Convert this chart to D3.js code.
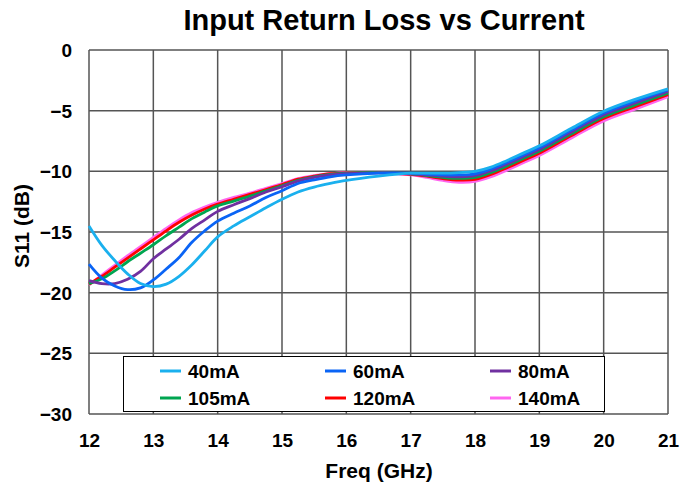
<!DOCTYPE html>
<html><head><meta charset="utf-8">
<script src="https://cdn.jsdelivr.net/npm/d3@7"></script>
<style>
body{margin:0;background:#fff;}
svg text{font-family:Arial,"Liberation Sans",sans-serif;font-weight:bold;fill:#000;}
</style></head>
<body><svg id="chart" width="696" height="488"></svg>
<script>
const freq = [12,12.2,12.4,12.6,12.8,13,13.2,13.4,13.6,13.8,14,14.25,14.5,14.75,15,15.25,15.5,15.75,16,16.5,17,17.25,17.5,17.75,18,18.25,18.5,18.75,19,19.5,20,20.5,21];
const s40  = [-14.5,-16.1,-17.35,-18.45,-19.25,-19.5,-19.3,-18.65,-17.7,-16.55,-15.4,-14.5,-13.75,-13.0,-12.3,-11.7,-11.3,-11.0,-10.75,-10.4,-10.15,-10.15,-10.15,-10.1,-10.0,-9.65,-9.1,-8.5,-7.9,-6.45,-5.05,-4.05,-3.2];
const s60  = [-17.65,-18.8,-19.45,-19.75,-19.6,-18.95,-18.05,-17.1,-15.85,-14.9,-14.1,-13.45,-12.85,-12.15,-11.6,-11.0,-10.7,-10.45,-10.3,-10.15,-10.15,-10.22,-10.3,-10.3,-10.2,-9.8,-9.25,-8.65,-8.05,-6.6,-5.2,-4.2,-3.3];
const s80  = [-19.0,-19.25,-19.25,-18.9,-18.25,-17.2,-16.4,-15.6,-14.7,-14.0,-13.3,-12.75,-12.25,-11.7,-11.27,-10.8,-10.5,-10.3,-10.2,-10.12,-10.2,-10.3,-10.4,-10.45,-10.36,-9.95,-9.4,-8.8,-8.2,-6.75,-5.35,-4.35,-3.42];
const s105 = [-19.25,-18.85,-18.2,-17.45,-16.75,-16.05,-15.3,-14.6,-13.9,-13.35,-12.85,-12.45,-12.05,-11.6,-11.2,-10.75,-10.45,-10.25,-10.15,-10.1,-10.2,-10.35,-10.5,-10.58,-10.5,-10.1,-9.55,-8.95,-8.35,-6.9,-5.5,-4.5,-3.55];
const s120 = [-19.3,-18.65,-17.9,-17.15,-16.4,-15.65,-14.9,-14.2,-13.6,-13.1,-12.7,-12.3,-11.9,-11.5,-11.1,-10.65,-10.4,-10.2,-10.12,-10.1,-10.25,-10.4,-10.6,-10.72,-10.66,-10.25,-9.7,-9.1,-8.5,-7.05,-5.65,-4.65,-3.68];
const s140 = [-19.35,-18.55,-17.75,-16.95,-16.2,-15.45,-14.7,-14.0,-13.4,-12.95,-12.55,-12.15,-11.8,-11.4,-11.0,-10.6,-10.35,-10.2,-10.1,-10.1,-10.3,-10.5,-10.75,-10.9,-10.83,-10.45,-9.9,-9.3,-8.7,-7.25,-5.85,-4.85,-3.85];
const seriesNames = ["40mA","60mA","80mA","105mA","120mA","140mA"];
const seriesColors = ["#1AB0EE","#0A64F5","#7030A0","#00A550","#FF0000","#FF66F0"];
const xTicks = [12,13,14,15,16,17,18,19,20,21];
const yTicks = [0,-5,-10,-15,-20,-25,-30];
const allSeries = [s40,s60,s80,s105,s120,s140];

const svg = d3.select("#chart");
const L=89,R=668,T=50,B=414;
const x = d3.scaleLinear().domain([12,21]).range([L,R]);
const y = d3.scaleLinear().domain([-30,0]).range([B,T]);

// grid
const g = svg.append("g");
g.selectAll(".vg").data(xTicks).join("line")
 .attr("x1",d=>x(d)).attr("x2",d=>x(d)).attr("y1",T).attr("y2",B)
 .attr("stroke","#555").attr("stroke-width",1.5);
g.selectAll(".hg").data(yTicks).join("line")
 .attr("x1",L).attr("x2",R).attr("y1",d=>y(d)).attr("y2",d=>y(d))
 .attr("stroke","#555").attr("stroke-width",1.5);

// axes labels
const xAxis = d3.axisBottom(x).tickValues(xTicks).tickSize(0).tickPadding(0).tickFormat(d3.format("d"));
const xg = svg.append("g").attr("transform",`translate(0,${B})`).call(xAxis);
xg.select(".domain").remove();
xg.selectAll("text").attr("dy",null).attr("y",33).style("font-size","19px").style("font-family","Arial, 'Liberation Sans', sans-serif").style("font-weight","bold");

const yAxis = d3.axisLeft(y).tickValues(yTicks).tickSize(0).tickPadding(0).tickFormat(d3.format("d"));
const yg = svg.append("g").attr("transform",`translate(${L-17},0)`).call(yAxis);
yg.select(".domain").remove();
yg.selectAll("text").attr("dy","0.35em").style("font-size","19px").style("font-family","Arial, 'Liberation Sans', sans-serif").style("font-weight","bold");

// lines
const line = d3.line().x((d,i)=>x(freq[i])).y(d=>y(d)).curve(d3.curveCatmullRom.alpha(0.5));
for(let k=allSeries.length-1;k>=0;k--){
  svg.append("path").datum(allSeries[k]).attr("d",line)
   .attr("fill","none").attr("stroke",seriesColors[k]).attr("stroke-width",2.8)
   .attr("stroke-linejoin","round");
}

// legend
const lg = svg.append("g");
lg.append("rect").attr("x",123.5).attr("y",356.5).attr("width",481).attr("height",55)
  .attr("fill","#fff").attr("stroke","#000").attr("stroke-width",1);
const colX=[160,325,490], rowY=[371,398];
seriesNames.forEach((n,i)=>{
  const cx=colX[i%3], cy=rowY[Math.floor(i/3)];
  lg.append("line").attr("x1",cx).attr("x2",cx+21).attr("y1",cy).attr("y2",cy)
    .attr("stroke",seriesColors[i]).attr("stroke-width",3);
  lg.append("text").attr("x",cx+28).attr("y",cy+7).style("font-size","19px").text(n);
});

// titles
svg.append("text").attr("x",384).attr("y",30).attr("text-anchor","middle").style("font-size","29px").text("Input Return Loss vs Current");
svg.append("text").attr("x",379).attr("y",478).attr("text-anchor","middle").style("font-size","21px").text("Freq (GHz)");
svg.append("text").attr("transform","translate(29,226) rotate(-90)").attr("text-anchor","middle").style("font-size","21px").text("S11 (dB)");
</script></body></html>
